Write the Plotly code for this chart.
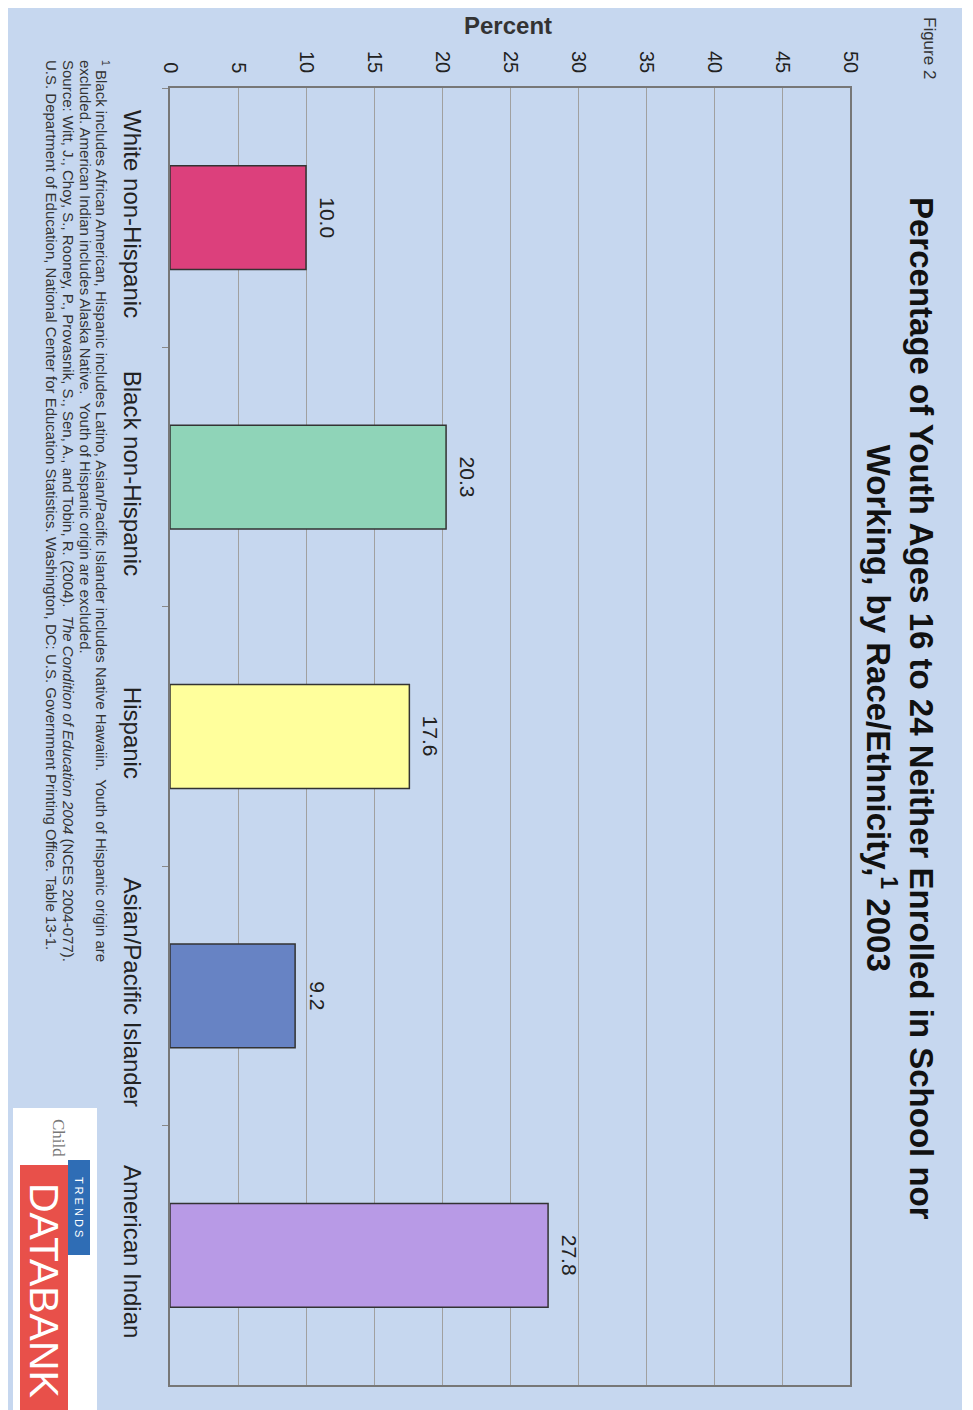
import plotly.graph_objects as go

categories = ["White non-Hispanic", "Black non-Hispanic", "Hispanic",
              "Asian/Pacific Islander", "American Indian"]
values = [10.0, 20.3, 17.6, 9.2, 27.8]
bar_colors = ["#dc407c", "#8fd4b8", "#ffff9c", "#6783c4", "#b89ae6"]
value_ticks = [0, 5, 10, 15, 20, 25, 30, 35, 40, 45, 50]

footnote_lines = [
    "<sup>1</sup> Black includes African American, Hispanic includes Latino, Asian/Pacific Islander includes Native Hawaiin.  Youth of Hispanic origin are",
    "excluded. American Indian includes Alaska Native.  Youth of Hispanic origin are excluded.",
    "Source: Witt, J., Choy, S., Rooney, P., Provasnik, S., Sen, A., and Tobin, R. (2004).  <i>The Condition of Education 2004</i> (NCES 2004-077).",
    "U.S. Department of Education, National Center for Education Statistics. Washington, DC: U.S. Government Printing Office. Table 13-1.",
]

W, H = 973, 1410
OFF = 8  # page body margin
L, R, T, B = 170, 850, 88, 1385


def px(x):
    return (x - L) / (R - L)


def py(y):
    return (B - y) / (B - T)


FONT = "Liberation Sans, Arial, sans-serif"

fig = go.Figure()
fig.add_trace(go.Bar(
    x=values, y=categories, orientation="h",
    marker=dict(color=bar_colors, line=dict(color="#333333", width=1.5)),
    width=0.4, showlegend=False, hoverinfo="x+y",
))

annotations = []
for c, v in zip(categories, values):
    annotations.append(dict(
        x=v, y=c, xref="x", yref="y", text=f"{v:.1f}", showarrow=False,
        textangle=90, xanchor="left", yanchor="middle", xshift=8,
        font=dict(family=FONT, size=21, color="#222222"),
    ))

annotations += [
    dict(x=px(900), y=py(708), xref="paper", yref="paper", showarrow=False,
         textangle=90, xanchor="center", yanchor="middle",
         text="<b>Percentage of Youth Ages 16 to 24 Neither Enrolled in School nor<br>"
              "Working, by Race/Ethnicity,<sup>1</sup> 2003</b>",
         font=dict(family=FONT, size=33, color="#111111")),
    dict(x=px(929), y=py(48), xref="paper", yref="paper", showarrow=False,
         textangle=90, xanchor="center", yanchor="middle",
         text="Figure 2", font=dict(family=FONT, size=17, color="#333333")),
    dict(x=px(508), y=py(25), xref="paper", yref="paper", showarrow=False,
         xanchor="center", yanchor="middle",
         text="<b>Percent</b>", font=dict(family=FONT, size=24, color="#333333")),
    # logo texts
    dict(x=px(44), y=py(1290), xref="paper", yref="paper", showarrow=False,
         textangle=90, xanchor="center", yanchor="middle",
         text="DATABANK", font=dict(family=FONT, size=41, color="#ffffff")),
    dict(x=px(79), y=py(1207), xref="paper", yref="paper", showarrow=False,
         textangle=90, xanchor="center", yanchor="middle",
         text="T R E N D S", font=dict(family=FONT, size=11, color="#ffffff")),
    dict(x=px(59), y=py(1138), xref="paper", yref="paper", showarrow=False,
         textangle=90, xanchor="center", yanchor="middle",
         text="Child", font=dict(family="Liberation Serif, serif", size=17, color="#777777")),
]

foot_x = [103, 86, 69, 52]
for xx, line in zip(foot_x, footnote_lines):
    annotations.append(dict(
        x=px(xx), y=py(58), xref="paper", yref="paper", showarrow=False,
        textangle=90, xanchor="center", yanchor="top",
        text=line, font=dict(family=FONT, size=15, color="#333333"),
    ))

shapes = [
    dict(type="rect", xref="paper", yref="paper", layer="below",
         x0=px(8), x1=px(962), y0=py(4), y1=py(1410),
         fillcolor="#c6d7ef", line=dict(width=0)),
    dict(type="rect", xref="paper", yref="paper",
         x0=px(13), x1=px(97), y0=py(1108), y1=py(1410),
         fillcolor="#ffffff", line=dict(width=0)),
    dict(type="rect", xref="paper", yref="paper",
         x0=px(20), x1=px(68), y0=py(1165), y1=py(1410),
         fillcolor="#e8504a", line=dict(width=0)),
    dict(type="rect", xref="paper", yref="paper",
         x0=px(68), x1=px(90), y0=py(1160), y1=py(1255),
         fillcolor="#2f6db5", line=dict(width=0)),
]

fig.update_layout(
    width=W - OFF, height=H - OFF,
    margin=dict(l=L - OFF, r=W - R, t=T - OFF, b=H - B, pad=0),
    paper_bgcolor="#ffffff", plot_bgcolor="#ffffff",
    font=dict(family=FONT, color="#222222"),
    annotations=annotations, shapes=shapes,
    xaxis=dict(side="top", range=[0, 50], tickvals=value_ticks,
               tickangle=90, tickfont=dict(size=20, color="#222222"),
               showgrid=True, gridcolor="#a0a0a0", gridwidth=1,
               showline=True, linecolor="#777777", linewidth=1.5, mirror=True,
               ticks="", ticklabelstandoff=6, zeroline=False, fixedrange=True),
    yaxis=dict(range=[4.5, -0.5], type="category",
               tickangle=90, tickfont=dict(size=24, color="#222222"),
               showline=True, linecolor="#777777", linewidth=1.5, mirror=True,
               ticks="outside", tickson="boundaries", ticklen=6, tickcolor="#888888",
               ticklabelstandoff=15, showgrid=False, fixedrange=True),
)

fig.write_html("out.html")
